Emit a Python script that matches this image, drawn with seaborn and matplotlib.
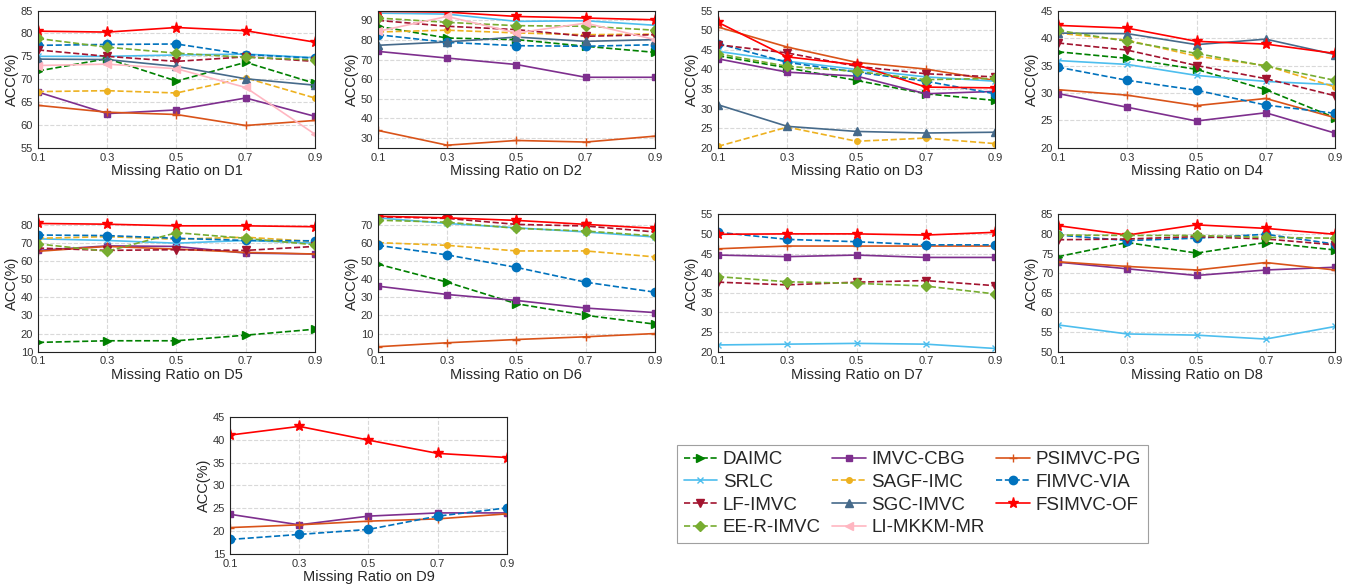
import matplotlib
matplotlib.use("Agg")
import matplotlib.pyplot as plt
import seaborn as sns
import numpy as np

ratios = [0.1, 0.3, 0.5, 0.7, 0.9]

methods = ["DAIMC", "IMVC-CBG", "PSIMVC-PG", "SRLC", "SAGF-IMC", "FIMVC-VIA",
           "LF-IMVC", "SGC-IMVC", "FSIMVC-OF", "EE-R-IMVC", "LI-MKKM-MR"]

# ACC(%) per dataset
D1 = {
    "DAIMC": [71.8, 74.5, 69.6, 73.7, 69.1],
    "IMVC-CBG": [67.2, 62.5, 63.3, 65.9, 61.9],
    "PSIMVC-PG": [64.3, 62.8, 62.3, 59.9, 61.0],
    "SRLC": [75.0, 75.0, 75.3, 75.5, 74.7],
    "SAGF-IMC": [67.3, 67.5, 67.0, 70.3, 65.9],
    "FIMVC-VIA": [77.4, 77.6, 77.7, 75.4, 74.6],
    "LF-IMVC": [76.4, 75.0, 73.9, 74.9, 73.9],
    "SGC-IMVC": [74.4, 74.3, 72.8, 70.1, 68.7],
    "FSIMVC-OF": [80.5, 80.3, 81.3, 80.6, 78.1],
    "EE-R-IMVC": [78.9, 77.0, 75.7, 74.8, 74.2],
    "LI-MKKM-MR": [73.0, 73.3, 72.3, 68.2, 58.0],
}
D2 = {
    "DAIMC": [87.0, 81.0, 80.2, 76.8, 73.7],
    "IMVC-CBG": [74.2, 70.8, 67.5, 61.0, 61.0],
    "PSIMVC-PG": [33.9, 26.4, 28.8, 28.0, 31.0],
    "SRLC": [93.7, 93.2, 89.5, 89.8, 87.5],
    "SAGF-IMC": [84.1, 85.0, 83.6, 82.7, 83.0],
    "FIMVC-VIA": [82.7, 78.8, 77.1, 76.8, 77.6],
    "LF-IMVC": [90.0, 87.0, 85.3, 81.9, 82.7],
    "SGC-IMVC": [77.3, 79.0, 81.5, 79.3, 80.2],
    "FSIMVC-OF": [94.6, 94.2, 92.0, 91.2, 90.3],
    "EE-R-IMVC": [91.2, 89.0, 87.3, 87.0, 85.0],
    "LI-MKKM-MR": [84.4, 92.0, 83.6, 88.6, 80.2],
}
D3 = {
    "DAIMC": [43.5, 40.4, 37.2, 33.8, 32.1],
    "IMVC-CBG": [42.7, 39.3, 38.3, 33.8, 34.4],
    "PSIMVC-PG": [50.8, 45.7, 41.8, 40.1, 37.2],
    "SRLC": [44.6, 42.1, 40.0, 38.1, 37.0],
    "SAGF-IMC": [20.4, 25.3, 21.7, 22.5, 21.1],
    "FIMVC-VIA": [46.6, 41.8, 39.3, 37.0, 33.8],
    "LF-IMVC": [46.3, 44.2, 40.8, 38.9, 38.1],
    "SGC-IMVC": [31.0, 25.5, 24.2, 23.8, 24.0],
    "FSIMVC-OF": [52.0, 43.2, 41.2, 35.5, 35.3],
    "EE-R-IMVC": [44.0, 40.8, 39.5, 37.4, 37.7],
}
D4 = {
    "DAIMC": [37.5, 36.3, 34.3, 30.6, 25.5],
    "IMVC-CBG": [29.9, 27.4, 24.9, 26.4, 22.7],
    "PSIMVC-PG": [30.6, 29.6, 27.7, 29.0, 25.5],
    "SRLC": [35.9, 35.2, 33.2, 32.1, 31.5],
    "SAGF-IMC": [40.9, 39.6, 36.7, 35.0, 31.1],
    "FIMVC-VIA": [34.7, 32.3, 30.5, 27.8, 26.3],
    "LF-IMVC": [39.1, 37.8, 35.0, 32.6, 29.5],
    "SGC-IMVC": [40.9, 40.8, 38.8, 39.8, 37.0],
    "FSIMVC-OF": [42.3, 41.8, 39.4, 38.9, 37.2],
    "EE-R-IMVC": [41.4, 39.4, 37.2, 34.9, 32.3],
}
D5 = {
    "DAIMC": [15.1, 16.0, 16.0, 19.1, 22.4],
    "IMVC-CBG": [66.0, 68.5, 68.2, 64.5, 64.0],
    "PSIMVC-PG": [65.5, 68.2, 66.7, 64.9, 64.0],
    "SRLC": [72.4, 71.5, 70.0, 71.5, 70.0],
    "SAGF-IMC": [72.7, 73.6, 72.2, 73.3, 70.9],
    "FIMVC-VIA": [74.5, 74.2, 72.7, 71.5, 71.3],
    "LF-IMVC": [67.3, 66.0, 66.4, 66.0, 68.2],
    "FSIMVC-OF": [80.9, 80.5, 79.6, 79.6, 79.1],
    "EE-R-IMVC": [69.6, 65.5, 75.8, 72.7, 69.1],
}
D6 = {
    "DAIMC": [48.4, 38.4, 26.5, 20.1, 15.2],
    "IMVC-CBG": [36.2, 31.6, 28.3, 24.1, 21.6],
    "PSIMVC-PG": [2.7, 4.9, 6.7, 8.2, 10.0],
    "SRLC": [74.0, 70.9, 68.5, 66.2, 63.4],
    "SAGF-IMC": [60.3, 58.8, 55.7, 55.7, 52.4],
    "FIMVC-VIA": [58.8, 53.5, 46.6, 38.4, 32.9],
    "LF-IMVC": [74.6, 73.7, 70.4, 69.5, 66.2],
    "FSIMVC-OF": [74.9, 74.0, 72.6, 70.4, 68.2],
    "EE-R-IMVC": [72.7, 71.6, 68.2, 66.7, 64.0],
}
D7 = {
    "IMVC-CBG": [44.6, 44.2, 44.6, 44.0, 44.0],
    "PSIMVC-PG": [46.2, 46.9, 46.9, 46.9, 46.9],
    "SRLC": [21.7, 21.9, 22.1, 21.9, 20.8],
    "FIMVC-VIA": [50.4, 48.6, 48.0, 47.2, 47.2],
    "LF-IMVC": [37.7, 37.0, 37.7, 38.1, 36.8],
    "FSIMVC-OF": [49.9, 50.0, 50.0, 49.7, 50.4],
    "EE-R-IMVC": [39.1, 37.8, 37.4, 36.7, 34.7],
}
D8 = {
    "DAIMC": [74.2, 77.8, 75.1, 77.8, 75.9],
    "IMVC-CBG": [72.8, 71.1, 69.4, 70.8, 71.5],
    "PSIMVC-PG": [72.9, 71.7, 70.8, 72.7, 70.8],
    "SRLC": [56.8, 54.5, 54.2, 53.2, 56.4],
    "FIMVC-VIA": [79.7, 78.3, 78.9, 79.9, 77.4],
    "LF-IMVC": [78.5, 78.7, 79.3, 78.7, 77.2],
    "FSIMVC-OF": [82.1, 79.7, 82.3, 81.4, 79.9],
    "EE-R-IMVC": [79.7, 79.6, 79.6, 79.1, 78.9],
}
D9 = {
    "IMVC-CBG": [23.7, 21.4, 23.3, 24.0, 24.0],
    "PSIMVC-PG": [20.8, 21.4, 22.2, 22.7, 23.8],
    "FIMVC-VIA": [18.2, 19.3, 20.4, 23.3, 25.1],
    "FSIMVC-OF": [41.0, 42.9, 39.9, 37.0, 36.1],
}

datasets = [D1, D2, D3, D4, D5, D6, D7, D8, D9]
names = ["D1", "D2", "D3", "D4", "D5", "D6", "D7", "D8", "D9"]
ylims = [(55, 85), (25, 95), (20, 55), (20, 45), (10, 86), (0, 76), (20, 55), (50, 85), (15, 45)]
ysteps = [5, 10, 5, 5, 10, 10, 5, 5, 5]

styles = {
    "DAIMC": dict(color="#008000", ls="--", marker=">", ms=6),
    "IMVC-CBG": dict(color="#7E2F8E", ls="-", marker="s", ms=5),
    "PSIMVC-PG": dict(color="#D95319", ls="-", marker="+", ms=6),
    "SRLC": dict(color="#4DBEEE", ls="-", marker="x", ms=4),
    "SAGF-IMC": dict(color="#EDB120", ls="--", marker="o", ms=4),
    "FIMVC-VIA": dict(color="#0072BD", ls="--", marker="o", ms=6),
    "LF-IMVC": dict(color="#A2142F", ls="--", marker="v", ms=6),
    "SGC-IMVC": dict(color="#466A8A", ls="-", marker="^", ms=6),
    "FSIMVC-OF": dict(color="#FF0000", ls="-", marker="*", ms=8),
    "EE-R-IMVC": dict(color="#77AC30", ls="--", marker="D", ms=5),
    "LI-MKKM-MR": dict(color="#FFB6C1", ls="-", marker="<", ms=6),
}

sns.set_style("whitegrid", {"grid.linestyle": "--", "grid.color": "#d9d9d9",
                            "axes.edgecolor": "black"})
plt.rcParams['font.family'] = ['Liberation Sans', 'DejaVu Sans']

fig = plt.figure(figsize=(13.61, 5.87), dpi=100)

W, H = 0.2035, 0.234
lefts = [0.0279, 0.2777, 0.5276, 0.7774]
bottoms = [0.748, 0.401, 0.056]
positions = [(lefts[c], bottoms[r]) for r in range(2) for c in range(4)] + [(0.169, bottoms[2])]

handles = {}
for data, name, ylim, step, (l, b) in zip(datasets, names, ylims, ysteps, positions):
    ax = fig.add_axes([l, b, W, H])
    for m in methods:
        if m not in data:
            continue
        st = styles[m]
        sns.lineplot(x=ratios, y=data[m], ax=ax, color=st["color"], linestyle=st["ls"],
                     marker=st["marker"], markersize=st["ms"], linewidth=1.2,
                     markeredgecolor=st["color"], markeredgewidth=1.0)
        handles[m] = ax.lines[-1]
    ax.set_xlim(0.1, 0.9)
    ax.set_ylim(*ylim)
    ax.set_xticks(ratios)
    ax.set_xticklabels(["0.1", "0.3", "0.5", "0.7", "0.9"])
    ax.set_yticks(np.arange(np.ceil(ylim[0] / step) * step, ylim[1] + 0.01, step))
    ax.tick_params(direction="in", labelsize=8, length=3, colors="#333333")
    ax.set_xlabel("Missing Ratio on " + name, fontsize=10.5, labelpad=1)
    ax.set_ylabel("ACC(%)", fontsize=10.5, labelpad=1)
    for s in ax.spines.values():
        s.set_linewidth(0.8)
        s.set_color("#222222")
    ax.grid(True, linestyle="--", color="#d9d9d9", linewidth=0.8)

order = ["DAIMC", "SRLC", "LF-IMVC", "EE-R-IMVC",
         "IMVC-CBG", "SAGF-IMC", "SGC-IMVC", "LI-MKKM-MR",
         "PSIMVC-PG", "FIMVC-VIA", "FSIMVC-OF"]
leg = fig.legend([handles[m] for m in order], order, ncol=3, loc="lower left",
                 bbox_to_anchor=(677 / 1361, 1 - 543 / 587), borderaxespad=0,
                 fontsize=13.5, frameon=True, fancybox=False, edgecolor="#888888",
                 handlelength=1.8, columnspacing=0.6, labelspacing=0.3,
                 borderpad=0.35, handletextpad=0.3)
leg.get_frame().set_linewidth(0.8)

fig.savefig("out.png", dpi=100)
